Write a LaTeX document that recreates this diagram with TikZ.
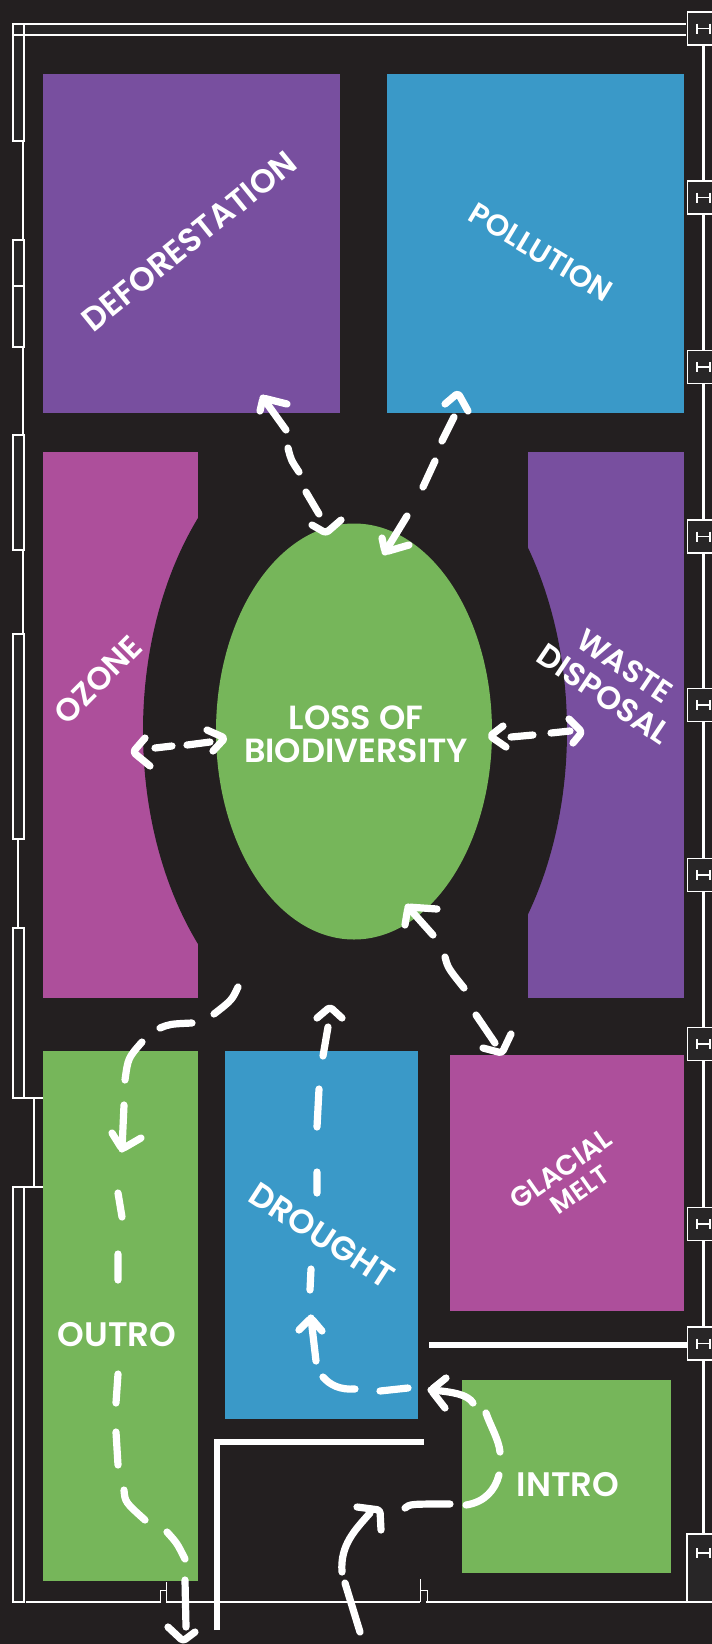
\documentclass[tikz,border=0pt]{standalone}
\usepackage{fontspec}
\newfontfamily\fut{Poppins SemiBold}
\usetikzlibrary{calc,shapes.geometric}
\definecolor{bgc}{HTML}{231F20}
\definecolor{cavity}{HTML}{282627}
\definecolor{purp}{HTML}{784F9F}
\definecolor{blu}{HTML}{3A99C8}
\definecolor{mag}{HTML}{AD4F9B}
\definecolor{grn}{HTML}{76B65A}
\tikzset{
 room/.style={rectangle,draw=none,inner sep=0pt,outer sep=0pt},
 lab/.style={text=white,inner sep=0pt,align=center,font=\fut},
 flow/.style={draw=white,line width=7.2pt,line cap=round,line join=round},
 wall/.style={draw=white,line width=1.5pt},
 wallb/.style={draw=white,line width=2.8pt},
 thick wall/.style={draw=white,line width=5.5pt},
 hbox/.style={rectangle,draw=white,line width=1.3pt,fill=cavity,inner sep=0pt,minimum width=30pt,minimum height=33pt,anchor=west},
}
\newcommand{\barb}[3]{\draw[flow,rounded corners=3pt] ($(#1)+(#2)$) -- (#1) -- ($(#1)+(#3)$);}
\newcommand{\hmark}[1]{\draw[draw=white,line width=1.2pt] (697,#1-5) -- (697,#1+5) (697,#1) -- (710,#1) (710,#1-5) -- (710,#1+5);}
\begin{document}
\begin{tikzpicture}[x=1pt,y=-1pt]
\useasboundingbox (0,0) rectangle (712,1644);
\fill[bgc] (0,0) rectangle (712,1644);
% walls
\fill[cavity] (13,24) rectangle (686,35);
\foreach \a/\b in {35/141,240/286,286/347,435/550,634/839,928/1098,1187/1602}{
  \draw[wall,fill=cavity] (13,\a) rectangle (24,\b);
}
\draw[wall] (13,24) rectangle (24,35);
\draw[wall] (13,24) -- (686,24) (13,35) -- (686,35);
\foreach \a/\b in {141/240,347/435,550/634}{ \draw[wallb] (23,\a) -- (23,\b); }
\draw[wallb] (18,839) -- (18,928);
\draw[wall] (13,1098) -- (43,1098) (13,1187) -- (43,1187) (34,1098) -- (34,1187);
\draw[wallb] (703.5,40) -- (703.5,1540);
\draw[wallb] (26,1602) -- (161,1602) (166,1602) -- (420,1602) (426,1602) -- (691,1602);
\draw[draw=white,line width=1pt] (160,1602) -- (160,1590) -- (166,1590) -- (166,1582) (166,1590) -- (166,1602);
\draw[draw=white,line width=1pt] (420,1579) -- (420,1602) (420,1590) -- (427,1590) -- (427,1602);
\foreach \c in {28.5,197.5,367,536.5,705,875,1044,1224,1343.5}{
  \node[hbox] at (686.5,\c) {};
  \hmark{\c}
}
\draw[draw=white,line width=1.3pt,fill=cavity] (687,1534) rectangle (714,1602);
\hmark{1553}
% rooms
\node[room,fill=purp,minimum width=297pt,minimum height=339pt] (def) at (191.5,243.5) {};
\node[room,fill=blu,minimum width=297pt,minimum height=339pt] (pol) at (535.5,243.5) {};
\node[room,fill=mag,minimum width=155pt,minimum height=546pt] (oz) at (120.5,725) {};
\node[room,fill=purp,minimum width=156pt,minimum height=546pt] (was) at (606,725) {};
\fill[bgc] (355,731) ellipse [x radius=212, y radius=317];
\node[room,fill=grn,ellipse,minimum width=276pt,minimum height=416pt] (loss) at (354,731.5) {};
\node[room,fill=grn,minimum width=155pt,minimum height=530pt] (out) at (120.5,1316) {};
\node[room,fill=blu,minimum width=193pt,minimum height=368pt] (dro) at (321,1235) {};
\node[room,fill=mag,minimum width=234pt,minimum height=256pt] (gla) at (567,1183) {};
\node[room,fill=grn,minimum width=209pt,minimum height=193pt] (int) at (566.5,1476.5) {};
% thick partitions
\draw[thick wall] (217,1630) -- (217,1442) -- (424,1442);
\draw[thick wall] (429,1345) -- (687,1345);
% labels
\node[lab,font=\fut\fontsize{33}{34}\selectfont,rotate=39] (tdef) at (189,241) {DEFORESTATION};
\node[lab,font=\fut\fontsize{30}{30}\selectfont,rotate=-31] (tpol) at (541,252) {POLLUTION};
\node[lab,font=\fut\fontsize{32}{34}\selectfont,rotate=45] (toz) at (98,680) {OZONE};
\node[lab,font=\fut\fontsize{31}{34}\selectfont,rotate=-34] (twas) at (625,666) {WASTE};
\node[lab,font=\fut\fontsize{32}{34}\selectfont,rotate=-34] (tdis) at (604,694) {DISPOSAL};
\node[lab,font=\fut\fontsize{33.5}{33}\selectfont] (tlo1) at (356,718) {LOSS OF};
\node[lab,font=\fut\fontsize{33.5}{33}\selectfont] (tlo2) at (356,751) {BIODIVERSITY};
\node[lab,font=\fut\fontsize{34}{34}\selectfont] (tout) at (117,1335) {OUTRO};
\node[lab,font=\fut\fontsize{33.5}{34}\selectfont,rotate=-33] (tdro) at (322,1235) {DROUGHT};
\node[lab,font=\fut\fontsize{28}{28}\selectfont,rotate=35] (tgl) at (561,1169) {GLACIAL};
\node[lab,font=\fut\fontsize{26}{28}\selectfont,rotate=35] (tme) at (580,1190) {MELT};
\node[lab,font=\fut\fontsize{34}{34}\selectfont] (tin) at (568,1485) {INTRO};
% connector ends
\coordinate (defEnd) at (263,398);
\coordinate (lossA) at (326,533);
\coordinate (polEnd) at (458,393);
\coordinate (lossB) at (385,552);
\coordinate (ozEnd) at (133,752);
\coordinate (lossC) at (225,738);
\coordinate (lossD) at (490,736);
\coordinate (wasEnd) at (582,732);
\coordinate (lossE) at (408,907);
\coordinate (glaEnd) at (502,1053);
\coordinate (outIn) at (122,1149);
\coordinate (exitEnd) at (183,1641);
\coordinate (entry) at (360,1632);
\coordinate (hallA) at (380,1510);
\coordinate (hallB) at (431,1390);
\coordinate (droIn) at (311,1318);
\coordinate (droTop) at (330,1007);
% connectors
\draw[flow] (defEnd) -- (286,430) (288,448) .. controls (291,460) .. (299,472) (306,492) -- (319,514);
\barb{defEnd}{-3,13}{24,6}
\barb{lossA}{-14,-8}{15,-13}
\draw[flow] (454,417) -- (442,441) (435,461) -- (423,487) (407,516) -- (lossB);
\barb{polEnd}{-13,11}{10,18}
\barb{lossB}{-3,-14}{24,-7}
\draw[flow] (155,748) -- (172,746) (187,745) -- (210,742);
\barb{ozEnd}{12,-14}{17,14}
\barb{lossC}{-18,-8}{-12,13}
\draw[flow] (511,737) -- (533,735) (551,733) -- (570,731);
\barb{lossD}{13,-10}{16,11}
\barb{wasEnd}{-13,-13}{-9,11}
\draw[flow] (lossE) -- (433,935) (445,957) .. controls (448,968) .. (464,988) (476,1015) -- (495,1043);
\barb{lossE}{-3,18}{29,2}
\barb{glaEnd}{-19,-5}{9,-19}
\draw[flow] (238,987) .. controls (232,1000) .. (214,1014) (192,1023) .. controls (170,1024) .. (160,1028) (142,1042) .. controls (128,1058) .. (125,1080) (124,1105) -- (outIn);
\barb{outIn}{-10,-16}{19,-11}
\draw[flow] (118,1193) -- (122,1217) (118,1254) -- (118,1280) (118,1374) -- (116,1403) (116,1432) -- (118,1465) (124,1490) .. controls (125,1502) .. (145,1520) (167,1532) .. controls (177,1543) .. (185,1559) (185,1580) -- (186,1627);
\barb{exitEnd}{-15,-14}{12,-9}
\draw[flow] (entry) -- (345,1583) (342,1572) .. controls (340,1545) and (355,1530) .. (370,1513);
\barb{hallA}{-23,-3}{1,20}
\draw[flow] (405,1508) .. controls (410,1504) .. (450,1504) (466,1505) .. controls (485,1502) and (495,1490) .. (499,1475) (500,1452) .. controls (499,1440) and (490,1425) .. (486,1413) (473,1403) .. controls (468,1395) and (455,1392) .. (hallB);
\barb{hallB}{15,-12}{14,18}
\draw[flow] (408,1388) -- (380,1391) (355,1389) .. controls (340,1390) and (330,1385) .. (323,1377) (316,1361) -- (droIn);
\barb{droIn}{-12,12}{11,13}
\draw[flow] (310,1290) -- (311,1269) (317,1193) -- (317,1172) (317,1127) -- (319,1089) (323,1056) -- (328,1027);
\barb{droTop}{-13,11}{12,11}
\end{tikzpicture}
\end{document}
